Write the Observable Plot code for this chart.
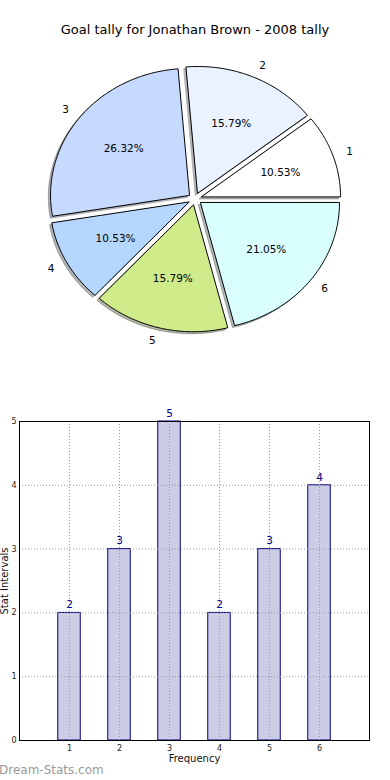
<!DOCTYPE html>
<html>
<head>
<meta charset="utf-8">
<script src="https://cdn.jsdelivr.net/npm/d3@7"></script>
<script src="https://cdn.jsdelivr.net/npm/@observablehq/plot@0.6"></script>
<style>
  html, body { margin: 0; padding: 0; background: #fff; }
  body { width: 390px; height: 780px; position: relative; overflow: hidden; font-family: "DejaVu Sans", sans-serif; }
  #title { position: absolute; top: 21px; left: 0; width: 390px; text-align: center; font-size: 13px; line-height: 18px; color: #000; z-index: 2; }
  #pie { position: absolute; top: 0; left: 0; z-index: 1; }
  #bars { position: absolute; top: 380px; left: 0; z-index: 1; }
  #mark { position: absolute; top: 762px; left: -1px; font-size: 12px; line-height: 16px; color: #9a9a9a; z-index: 2; }
  svg { font-family: "DejaVu Sans", sans-serif; }
</style>
</head>
<body>
<div id="title"></div>
<div id="pie"></div>
<div id="bars"></div>
<div id="mark"></div>
<script>
const title = "Goal tally for Jonathan Brown - 2008 tally";
const categories = [1, 2, 3, 4, 5, 6];
const goals = [2, 3, 5, 2, 3, 4];
const sliceColors = ["#FFFFFF", "#EBF2FF", "#C6D9FF", "#B5D6FF", "#D0EB8A", "#D9FFFF"];
const yTicks = [0, 1, 2, 3, 4, 5];
const xLabel = "Frequency";
const yLabel = "Stat Intervals";
const watermark = "Dream-Stats.com";

document.getElementById("title").textContent = title;
document.getElementById("mark").textContent = watermark;

// ---- Pie geometry (matplotlib-style: counterclockwise from east, explode 0.05) ----
const total = d3.sum(goals);
const cum = Array.from(d3.cumsum(goals));
const explode = 0.05;
const ring = [];
const shadowRing = [];
const outerLabels = [];
const pctLabels = [];
function darken(c) {
  const r = d3.rgb(c);
  return d3.rgb(r.r * 0.3, r.g * 0.3, r.b * 0.3).formatHex();
}
goals.forEach((v, i) => {
  const a0 = 2 * Math.PI * (i === 0 ? 0 : cum[i - 1]) / total;
  const a1 = 2 * Math.PI * cum[i] / total;
  const mid = (a0 + a1) / 2;
  const ox = explode * Math.cos(mid), oy = explode * Math.sin(mid);
  const n = Math.max(4, Math.ceil((a1 - a0) / (Math.PI / 180)));
  const pts = [{slice: i, x: ox, y: oy}];
  for (let k = 0; k <= n; k++) {
    const t = a0 + (a1 - a0) * k / n;
    pts.push({slice: i, x: ox + Math.cos(t), y: oy + Math.sin(t)});
  }
  pts.forEach(p => {
    ring.push({...p, color: sliceColors[i]});
    shadowRing.push({...p, color: darken(sliceColors[i])});
  });
  outerLabels.push({
    x: ox + 1.1 * Math.cos(mid), y: oy + 1.1 * Math.sin(mid),
    text: String(categories[i]), right: Math.cos(mid) > 0
  });
  pctLabels.push({
    x: ox + 0.6 * Math.cos(mid), y: oy + 0.6 * Math.sin(mid),
    text: (v / total * 100).toFixed(2) + "%"
  });
});

// centre (194.5, 198.3), radii 139 x 126.5
const pie = Plot.plot({
  width: 390,
  height: 380,
  marginLeft: 55.5,
  marginRight: 56.5,
  marginTop: 71.8,
  marginBottom: 54.9,
  x: {domain: [-1, 1], axis: null},
  y: {domain: [-1, 1], axis: null},
  color: {type: "identity"},
  style: {fontFamily: "DejaVu Sans, sans-serif", background: "transparent"},
  marks: [
    Plot.line(shadowRing, {x: "x", y: "y", z: "slice", fill: "color", stroke: "color",
      fillOpacity: 0.4, strokeOpacity: 0.4, strokeWidth: 1, curve: "linear-closed", dx: -2.2, dy: 2}),
    Plot.line(ring, {x: "x", y: "y", z: "slice", fill: "color", stroke: "black",
      strokeWidth: 1, curve: "linear-closed"}),
    Plot.text(outerLabels.filter(d => d.right), {x: "x", y: "y", text: "text", textAnchor: "start", fontSize: 10.5, fill: "black"}),
    Plot.text(outerLabels.filter(d => !d.right), {x: "x", y: "y", text: "text", textAnchor: "end", fontSize: 10.5, fill: "black"}),
    Plot.text(pctLabels, {x: "x", y: "y", text: "text", fontSize: 10.5, fill: "black"})
  ]
});
document.getElementById("pie").appendChild(pie);

// ---- Bar chart ----
const barData = categories.map((c, i) => ({cat: c, value: goals[i]}));
const barHalf = 0.225;

const bars = Plot.plot({
  width: 390,
  height: 400,
  marginTop: 41,
  marginBottom: 40,
  marginLeft: 19,
  marginRight: 21,
  x: {domain: [0, 7], ticks: categories, tickFormat: d => String(d)},
  y: {domain: [0, 5], ticks: yTicks, tickFormat: d => String(d)},
  style: {fontFamily: "DejaVu Sans, sans-serif", background: "transparent", fontSize: "8px"},
  marks: [
    Plot.rectY(barData, {x1: d => d.cat - barHalf, x2: d => d.cat + barHalf, y1: 0, y2: "value",
      fill: "#CCCCE5", stroke: "#000080", strokeWidth: 1}),
    Plot.gridX(categories, {stroke: "#999", strokeOpacity: 1, strokeDasharray: "1,2", strokeWidth: 1}),
    Plot.gridY(yTicks, {stroke: "#999", strokeOpacity: 1, strokeDasharray: "1,2", strokeWidth: 1}),
    Plot.axisX(categories, {tickSize: 0, tickPadding: 5, fontSize: 8, label: null, fill: "#222", tickFormat: d => String(d)}),
    Plot.axisY(yTicks, {tickSize: 0, tickPadding: 3, fontSize: 8, label: null, fill: "#222", tickFormat: d => String(d)}),
    Plot.frame({stroke: "black", strokeWidth: 1}),
    Plot.text(barData, {x: "cat", y: "value", text: d => String(d.value), dy: -8, fill: "#000088", fontSize: 10.5}),
    Plot.text([xLabel], {frameAnchor: "bottom", dy: 14, fontSize: 10, fill: "#111", lineAnchor: "top"}),
    Plot.text([yLabel], {frameAnchor: "left", dx: -15, rotate: -90, textAnchor: "middle", fontSize: 10, fill: "#111"})
  ]
});
document.getElementById("bars").appendChild(bars);
</script>
</body>
</html>
